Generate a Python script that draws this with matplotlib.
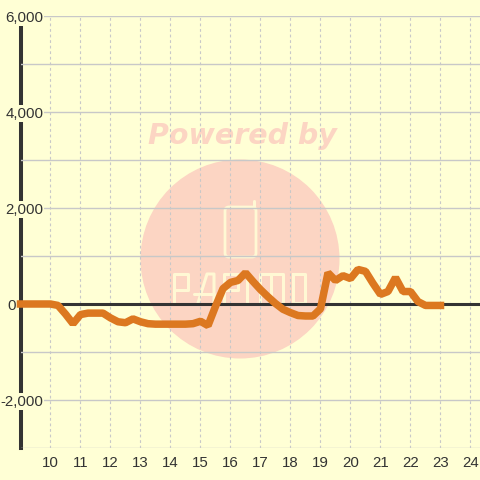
import matplotlib
matplotlib.use('Agg')
import matplotlib.pyplot as plt
from matplotlib.patches import Circle, FancyBboxPatch
from matplotlib.transforms import Affine2D

horas = [9, 9.25, 9.5, 9.75, 10, 10.25, 10.5, 10.75, 11, 11.25, 11.5, 11.75,
         12, 12.25, 12.5, 12.75, 13, 13.25, 13.5, 13.75, 14, 14.25, 14.5, 14.75,
         15, 15.25, 15.5, 15.75, 16, 16.25, 16.5, 16.75, 17, 17.25, 17.5, 17.75,
         18, 18.25, 18.5, 18.75, 19, 19.25, 19.5, 19.75, 20, 20.25, 20.5, 20.75,
         21, 21.25, 21.5, 21.75, 22, 22.25, 22.5, 22.75, 23]
valores = [0, 0, 0, 0, 0, -30, -210, -410, -220, -190, -190, -190,
           -290, -370, -390, -310, -370, -410, -420, -420, -420, -420, -420, -410,
           -360, -450, -50, 320, 450, 490, 650, 470, 300, 150, 10, -110,
           -180, -240, -250, -250, -100, 650, 490, 590, 530, 720, 680, 430,
           200, 260, 550, 260, 260, 50, -30, -30, -30]

x_ticks = list(range(10, 25))
y_maior = [-2000, 0, 2000, 4000, 6000]
y_menor = [-3000, -1000, 1000, 3000, 5000]
y_labels = ['-2,000', '0', '2,000', '4,000', '6,000']

fundo = '#FFFFD5'
escuro = '#333333'
grade = '#C8C8C8'
laranja = '#DC7820'
marca = '#FCD5C3'
logo = '#FFF8D4'

plt.rcParams['font.family'] = ['Liberation Sans', 'DejaVu Sans']

fig = plt.figure(figsize=(4.8, 4.8), dpi=100, facecolor=fundo)
ax = fig.add_axes([20.5 / 480, 32 / 480, 459.5 / 480, 432 / 480], facecolor=fundo)
ax.set_xlim(9, 24.317)
ax.set_ylim(-3000, 6000)

# marca d'agua, em pixels da imagem (y para baixo)
px = Affine2D().scale(1, -1).translate(0, 480)
ax.add_patch(Circle((240, 259), 99.5, transform=px, fc=marca, ec='none', zorder=0.1))
ax.text(242, 135.5, 'Powered by', transform=px, color=marca, fontsize=20.5,
        family='DejaVu Sans', weight='bold', style='oblique',
        ha='center', va='center', zorder=0.1)
ax.add_patch(FancyBboxPatch((225, 207), 31, 50, boxstyle='round,pad=0,rounding_size=4',
                            transform=px, fc='none', ec=logo, lw=2, zorder=0.2))
tracos = [
    ([174, 174, 188, 188, 174], [303, 274, 274, 290, 290]),
    ([198, 207, 214, 214], [303, 274, 274, 303]),
    ([194, 214], [294, 294]),
    ([224, 224, 238, 238, 224], [303, 274, 274, 290, 290]),
    ([247, 247], [274, 303]),
    ([260, 260, 283, 283], [303, 274, 274, 303]),
    ([271, 271], [274, 303]),
    ([293, 293, 305, 305, 293], [274, 303, 303, 274, 274]),
    ([253.5, 253.5], [201, 208]),
]
for xs, ys in tracos:
    ax.plot(xs, ys, transform=px, color=logo, lw=2.2, solid_capstyle='round',
            solid_joinstyle='round', zorder=0.2)

ax.set_xticks(x_ticks)
ax.set_yticks(y_maior)
ax.set_yticklabels(y_labels)
ax.set_yticks(y_menor, minor=True)
ax.set_axisbelow(True)
ax.grid(True, axis='y', which='both', color=grade, lw=1)
ax.grid(True, axis='x', color=grade, lw=0.8, ls=(0, (2.5, 2.5)))
ax.tick_params(axis='both', which='both', length=0)
ax.tick_params(axis='x', labelsize=10.8, labelcolor=escuro, pad=5.5)
ax.tick_params(axis='y', labelsize=10.8, labelcolor=escuro, pad=-16.5)
ax.yaxis.get_major_ticks()[1].set_pad(3.2)
for rotulo in ax.get_yticklabels():
    rotulo.set_bbox(dict(fc=fundo, ec='none', pad=0.8))
    rotulo.set_zorder(3)

for lado in ['top', 'right', 'bottom']:
    ax.spines[lado].set_visible(False)
ax.spines['left'].set_color(escuro)
ax.spines['left'].set_linewidth(2.9)
ax.spines['left'].set_bounds(-3000, 5830)
ax.spines['left'].set_zorder(0.4)

ax.axhline(0, color=escuro, lw=2.2, zorder=2)
ax.plot(horas, valores, color=laranja, lw=5.4, solid_capstyle='projecting',
        solid_joinstyle='bevel', clip_on=False, zorder=3)

fig.savefig('out.png', dpi=100, facecolor=fundo)
